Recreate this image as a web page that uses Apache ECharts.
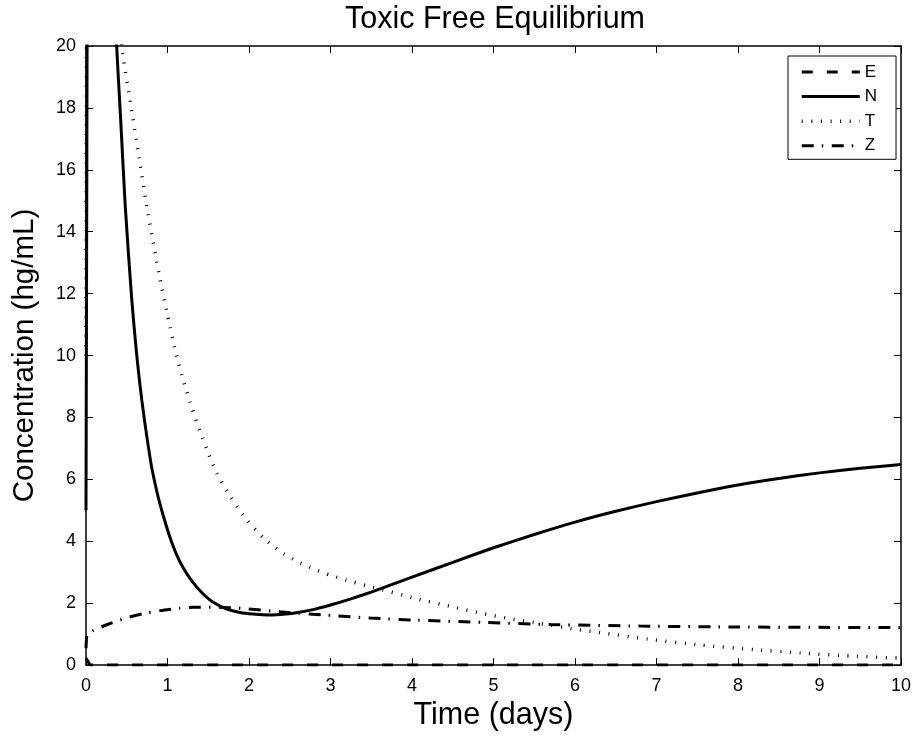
<!DOCTYPE html>
<html>
<head>
<meta charset="utf-8">
<script src="https://cdn.jsdelivr.net/npm/echarts@6/dist/echarts.min.js"></script>
<style>
html,body{margin:0;padding:0;background:#fff;}
#chart{width:914px;height:736px;}
</style>
</head>
<body>
<div id="chart"></div>
<script>
// ---- data (time in days, concentration in hg/mL) ----
var titleText = 'Toxic Free Equilibrium';
var xName = 'Time (days)';
var yName = 'Concentration (hg/mL)';
var seriesNames = ['E', 'N', 'T', 'Z'];
var xTicks = [0, 1, 2, 3, 4, 5, 6, 7, 8, 9, 10];
var yTicks = [0, 2, 4, 6, 8, 10, 12, 14, 16, 18, 20];

var E = [[0, 0.22], [0.05, 0], [1, 0], [2, 0], [4, 0], [6, 0], [8, 0], [10, 0]];

var N = [[0, 5], [0.01, 16], [0.02, 28], [0.04, 40], [0.08, 46], [0.15, 42], [0.25, 32],
  [0.32, 25], [0.377, 20], [0.426, 17.6], [0.48, 14.9], [0.56, 11.86], [0.66, 9.1],
  [0.79, 6.63], [0.87, 5.6], [0.95, 4.81], [1.05, 3.98], [1.15, 3.35], [1.25, 2.9],
  [1.36, 2.52], [1.46, 2.24], [1.56, 2.03], [1.72, 1.82], [1.89, 1.7], [2.05, 1.65],
  [2.26, 1.62], [2.45, 1.65], [2.6, 1.7], [2.8, 1.8], [3.0, 1.94], [3.25, 2.14],
  [3.5, 2.36], [3.75, 2.6], [4.0, 2.84], [4.5, 3.32], [5.0, 3.79], [5.5, 4.22],
  [6.0, 4.62], [6.5, 4.97], [7.0, 5.28], [7.5, 5.56], [8.0, 5.82], [8.5, 6.03],
  [9.0, 6.21], [9.5, 6.36], [10, 6.48]];

var T = [[0, 10], [0.01, 30], [0.03, 50], [0.08, 60], [0.15, 52], [0.25, 38], [0.35, 26],
  [0.44, 20], [0.55, 18.1], [0.65, 16.4], [0.76, 14.6], [0.91, 12.45], [1.0, 11.3],
  [1.11, 10.0], [1.2, 9.15], [1.3, 8.3], [1.4, 7.55], [1.5, 6.85], [1.6, 6.22],
  [1.77, 5.45], [1.97, 4.7], [2.18, 4.1], [2.38, 3.68], [2.59, 3.35], [2.8, 3.1],
  [3.0, 2.9], [3.25, 2.7], [3.5, 2.53], [4.06, 2.14], [4.5, 1.88], [4.88, 1.66],
  [5.2, 1.5], [5.58, 1.34], [6.0, 1.16], [6.31, 1.05], [6.89, 0.84], [7.54, 0.65],
  [8.2, 0.5], [8.77, 0.39], [9.4, 0.29], [10, 0.22]];

var Z = [[0, 0.55], [0.01, 0.95], [0.03, 1.04], [0.09, 1.12], [0.23, 1.28], [0.5, 1.53],
  [0.7, 1.66], [0.91, 1.76], [1.15, 1.84], [1.32, 1.87], [1.6, 1.87], [1.97, 1.82],
  [2.38, 1.72], [3.04, 1.6], [3.49, 1.52], [4.06, 1.45], [4.88, 1.38], [5.7, 1.31],
  [6.8, 1.26], [8.0, 1.23], [9.0, 1.22], [10, 1.21]];

var seriesData = [E, N, T, Z];

// ---- chart ----
var FONT = '"Liberation Sans", Arial, Helvetica, sans-serif';
var chart = echarts.init(document.getElementById('chart'), null, {renderer: 'canvas'});

var styles = [
  {width: 3, type: [11, 14], smooth: false},
  {width: 3, type: 'solid', smooth: 0.2},
  {width: 3.5, type: [1, 8.6], smooth: 0.2},
  {width: 3, type: [12, 8, 1.5, 8.5], smooth: 0.2}
];

function axisCommon(showLabel) {
  return {
    axisLine: {show: true, onZero: false, lineStyle: {color: '#000', width: 1.5}},
    axisTick: {show: true, inside: true, length: 7, lineStyle: {color: '#000', width: 1}},
    axisLabel: {show: showLabel, color: '#000', fontSize: 18, fontFamily: FONT},
    splitLine: {show: false}
  };
}

var xMain = Object.assign(axisCommon(true), {
  type: 'value', min: xTicks[0], max: xTicks[xTicks.length - 1], interval: 1,
  position: 'bottom', name: xName, nameLocation: 'middle', nameGap: 34,
  nameTextStyle: {color: '#000', fontSize: 30.5, fontFamily: FONT}
});
xMain.axisLabel.margin = 12;
var xTop = Object.assign(axisCommon(false), {
  type: 'value', min: xTicks[0], max: xTicks[xTicks.length - 1], interval: 1, position: 'top'
});
var yMain = Object.assign(axisCommon(true), {
  type: 'value', min: yTicks[0], max: yTicks[yTicks.length - 1], interval: 2,
  position: 'left', name: yName, nameLocation: 'middle', nameGap: 46,
  nameTextStyle: {color: '#000', fontSize: 29.5, fontFamily: FONT}
});
yMain.axisLabel.margin = 10;
var yRight = Object.assign(axisCommon(false), {
  type: 'value', min: yTicks[0], max: yTicks[yTicks.length - 1], interval: 2, position: 'right'
});

var series = seriesNames.map(function (name, i) {
  return {
    name: name,
    type: 'line',
    xAxisIndex: 0,
    yAxisIndex: 0,
    data: seriesData[i],
    showSymbol: false,
    symbol: 'none',
    smooth: styles[i].smooth,
    clip: true,
    z: 3,
    lineStyle: {color: '#000', width: styles[i].width, type: styles[i].type, cap: 'butt'},
    itemStyle: {color: '#000'}
  };
});

var legendData = seriesNames.map(function (name, i) {
  return {
    name: name,
    lineStyle: {color: '#000', width: styles[i].width, type: styles[i].type, cap: 'butt'}
  };
});

chart.setOption({
  animation: false,
  backgroundColor: '#fff',
  title: {
    text: titleText, left: 490, textAlign: 'center', top: -1,
    textStyle: {color: '#000', fontSize: 30.5, fontWeight: 'normal', fontFamily: FONT}
  },
  grid: {left: 86, right: 13, top: 46, bottom: 66, containLabel: false},
  legend: {
    orient: 'vertical', left: 788, top: 56,
    data: legendData,
    itemWidth: 58, itemHeight: 14, itemGap: 7.6,
    padding: [7.5, 19, 5, 12],
    borderColor: '#000', borderWidth: 1, backgroundColor: '#fff',
    itemStyle: {opacity: 0},
    lineStyle: {width: 3},
    textStyle: {color: '#000', fontSize: 17, fontFamily: FONT},
    selectedMode: false
  },
  xAxis: [xMain, xTop],
  yAxis: [yMain, yRight],
  series: series
});
</script>
</body>
</html>
